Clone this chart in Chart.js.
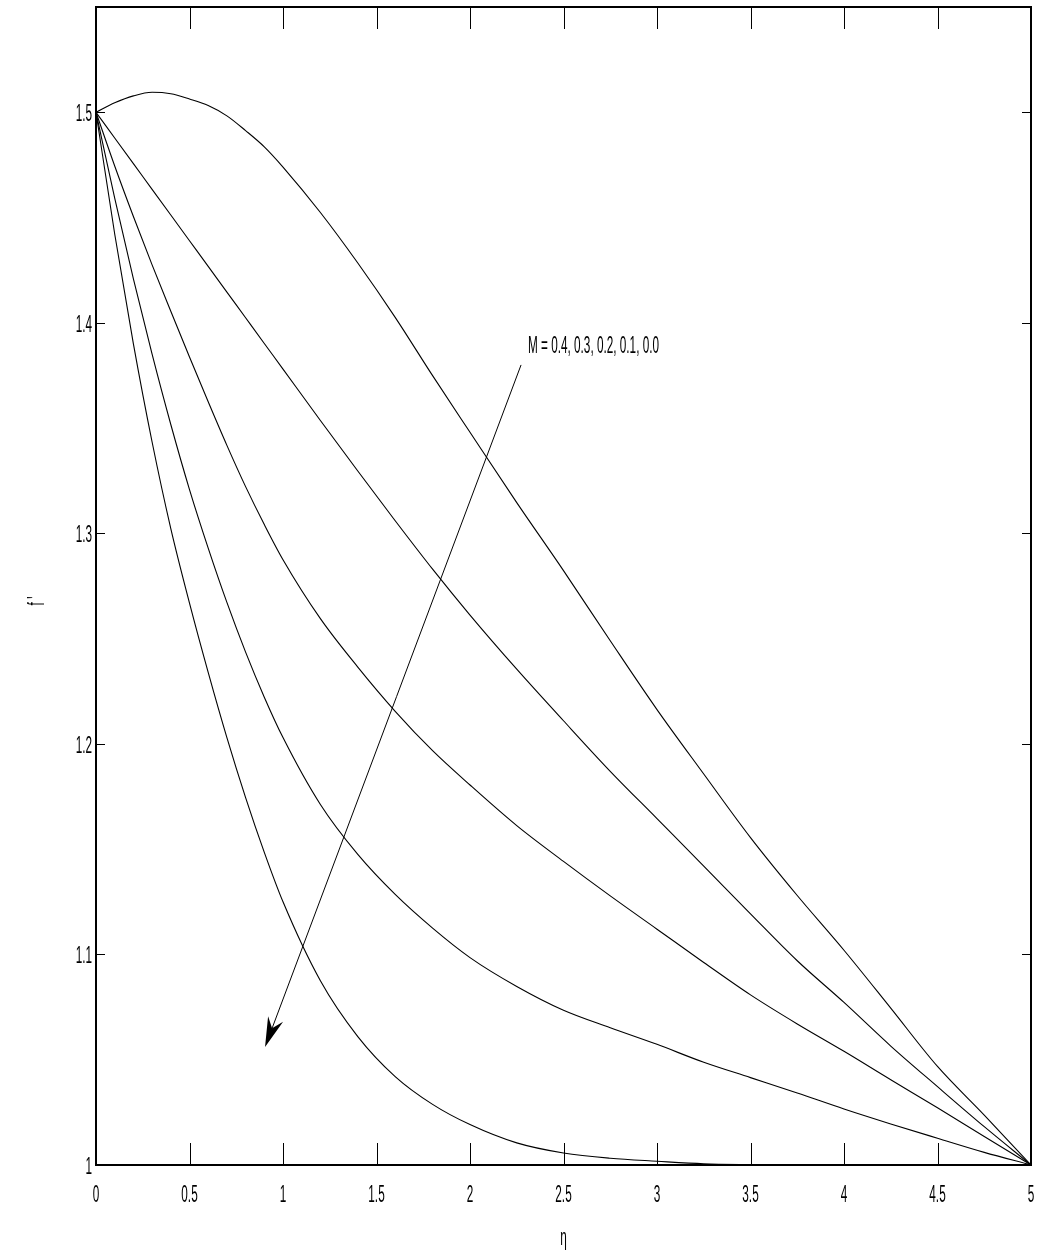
<!DOCTYPE html>
<html>
<head>
<meta charset="utf-8">
<script src="https://cdn.jsdelivr.net/npm/chart.js@4.4.1/dist/chart.umd.min.js"></script>
<style>
  html, body { margin: 0; padding: 0; background: #fff; }
  #wrap { width: 1039px; height: 1259px; }
</style>
</head>
<body>
<div id="wrap"><canvas id="chart" width="1039" height="1259"></canvas></div>
<script>
// --- Data ---
const eta = [0, 0.1, 0.2, 0.3, 0.4, 0.5, 0.6, 0.7, 0.8, 0.9, 1, 1.2, 1.4, 1.6, 1.8, 2,
             2.25, 2.5, 2.75, 3, 3.25, 3.5, 3.75, 4, 4.25, 4.5, 4.75, 5];

const fM04 = [1.5, 1.5045, 1.5078, 1.5095, 1.5088, 1.5063, 1.5032, 1.4983, 1.4913, 1.4836, 1.474,
              1.4524, 1.4284, 1.4026, 1.3749, 1.348, 1.3146, 1.2823, 1.249, 1.2163, 1.1857, 1.1555,
              1.128, 1.102, 1.0745, 1.0468, 1.0237, 1];
const fM03 = [1.5, 1.4878, 1.4756, 1.4634, 1.4512, 1.439, 1.4268, 1.4146, 1.4024, 1.3902, 1.378,
              1.3536, 1.3296, 1.306, 1.283, 1.2612, 1.2355, 1.211, 1.187, 1.1645, 1.142, 1.1193,
              1.097, 1.0772, 1.0565, 1.0372, 1.0182, 1];
const fM02 = [1.5, 1.4745, 1.4505, 1.4275, 1.4055, 1.3838, 1.3625, 1.3418, 1.3222, 1.3042, 1.2875,
              1.2595, 1.2365, 1.2155, 1.1968, 1.1805, 1.1612, 1.1442, 1.1278, 1.112, 1.0962, 1.0808,
              1.067, 1.054, 1.0405, 1.0272, 1.0135, 1];
const fM01 = [1.5, 1.4592, 1.4209, 1.3851, 1.3517, 1.3208, 1.293, 1.2672, 1.2436, 1.2222, 1.203,
              1.1712, 1.1475, 1.1285, 1.1125, 1.0985, 1.0848, 1.0735, 1.0652, 1.0573, 1.0488, 1.0415,
              1.0342, 1.0266, 1.0195, 1.0127, 1.006, 1];
const fM00 = [1.5, 1.4422, 1.39, 1.3434, 1.3023, 1.2669, 1.234, 1.203, 1.1745, 1.1485, 1.125,
              1.0875, 1.061, 1.042, 1.0288, 1.0192, 1.0105, 1.0057, 1.0032, 1.0018, 1.0006, 1.0002,
              1, 1, 1, 1, 1, 1];

const seriesLabels = ['M = 0.4', 'M = 0.3', 'M = 0.2', 'M = 0.1', 'M = 0.0'];

const xTickValues = [0, 0.5, 1, 1.5, 2, 2.5, 3, 3.5, 4, 4.5, 5];
const xTickLabels = ['0', '0.5', '1', '1.5', '2', '2.5', '3', '3.5', '4', '4.5', '5'];
const yTickValues = [1, 1.1, 1.2, 1.3, 1.4, 1.5];
const yTickLabels = ['1', '1.1', '1.2', '1.3', '1.4', '1.5'];

// annotation: text anchor and arrow, in data units
const noteText = 'M = 0.4, 0.3, 0.2, 0.1, 0.0';
const noteAt = [2.31, 1.3855];
const arrowFrom = [2.273, 1.380];
const arrowTo = [0.904, 1.056];

// --- helpers ---
const FONT = '24px "Liberation Sans", Arial, Helvetica, sans-serif';
const SQUEEZE = 0.49; // the original text is very condensed

function narrowText(ctx, text, x, y, align) {
    ctx.save();
    ctx.translate(x, y);
    ctx.scale(SQUEEZE, 1);
    ctx.textAlign = align;
    ctx.fillText(text, 0, 0);
    ctx.restore();
}

function toPairs(xs, ys) {
    return xs.map((x, i) => ({ x: x, y: ys[i] }));
}

// --- frame, inward ticks, labels and arrow ---
const framePlugin = {
    id: 'frame',
    afterDraw(chart) {
        const ctx = chart.ctx;
        const a = chart.chartArea;
        const xs = chart.scales.x;
        const ys = chart.scales.y;

        ctx.save();
        ctx.strokeStyle = '#000';

        // ticks on all four sides, pointing in
        ctx.lineWidth = 1;
        ctx.beginPath();
        xTickValues.forEach(v => {
            const px = Math.round(xs.getPixelForValue(v)) + 0.5;
            ctx.moveTo(px, a.bottom); ctx.lineTo(px, a.bottom - 22);
            ctx.moveTo(px, a.top); ctx.lineTo(px, a.top + 22);
        });
        yTickValues.forEach(v => {
            const py = Math.round(ys.getPixelForValue(v)) + 0.5;
            ctx.moveTo(a.left, py); ctx.lineTo(a.left + 9, py);
            ctx.moveTo(a.right, py); ctx.lineTo(a.right - 9, py);
        });
        ctx.stroke();

        // box
        ctx.lineWidth = 2;
        ctx.strokeRect(a.left, a.top, a.right - a.left, a.bottom - a.top);

        // tick labels
        ctx.fillStyle = '#000';
        ctx.font = FONT;
        ctx.textBaseline = 'alphabetic';
        xTickValues.forEach((v, i) => {
            narrowText(ctx, xTickLabels[i], xs.getPixelForValue(v), a.bottom + 37, 'center');
        });
        yTickValues.forEach((v, i) => {
            narrowText(ctx, yTickLabels[i], a.left - 4, ys.getPixelForValue(v) + 9, 'right');
        });

        // axis titles
        narrowText(ctx, '\u03B7', (a.left + a.right) / 2, a.bottom + 80, 'center');
        ctx.save();
        ctx.translate(44, (a.top + a.bottom) / 2 + 15);
        ctx.rotate(-Math.PI / 2);
        narrowText(ctx, "f '", 0, 0, 'center');
        ctx.restore();

        // annotation text
        narrowText(ctx, noteText, xs.getPixelForValue(noteAt[0]), ys.getPixelForValue(noteAt[1]), 'left');

        // arrow
        const x0 = xs.getPixelForValue(arrowFrom[0]), y0 = ys.getPixelForValue(arrowFrom[1]);
        const x1 = xs.getPixelForValue(arrowTo[0]), y1 = ys.getPixelForValue(arrowTo[1]);
        const len = Math.hypot(x1 - x0, y1 - y0);
        const ux = (x1 - x0) / len, uy = (y1 - y0) / len;
        const nx = -uy, ny = ux;
        const L = 30, W = 8, notch = 10;
        ctx.lineWidth = 1;
        ctx.beginPath();
        ctx.moveTo(x0, y0);
        ctx.lineTo(x1 - ux * (L - notch), y1 - uy * (L - notch));
        ctx.stroke();
        ctx.fillStyle = '#000';
        ctx.beginPath();
        ctx.moveTo(x1, y1);
        ctx.lineTo(x1 - ux * L + nx * W, y1 - uy * L + ny * W);
        ctx.lineTo(x1 - ux * (L - notch), y1 - uy * (L - notch));
        ctx.lineTo(x1 - ux * L - nx * W, y1 - uy * L - ny * W);
        ctx.closePath();
        ctx.fill();

        ctx.restore();
    }
};

// --- Chart ---
const curves = [fM04, fM03, fM02, fM01, fM00];

new Chart(document.getElementById('chart'), {
    type: 'line',
    data: {
        datasets: curves.map((ys, i) => ({
            label: seriesLabels[i],
            data: toPairs(eta, ys),
            borderColor: '#000',
            borderWidth: 1.1,
            pointRadius: 0,
            fill: false,
            cubicInterpolationMode: 'monotone'
        }))
    },
    options: {
        responsive: false,
        animation: false,
        devicePixelRatio: 1,
        layout: { padding: { left: 96, right: 8, top: 7, bottom: 94 } },
        plugins: {
            legend: { display: false },
            tooltip: { enabled: false }
        },
        scales: {
            x: {
                type: 'linear',
                display: false,
                min: 0,
                max: 5
            },
            y: {
                type: 'linear',
                display: false,
                min: 1,
                max: 1.55
            }
        }
    },
    plugins: [framePlugin]
});
</script>
</body>
</html>
